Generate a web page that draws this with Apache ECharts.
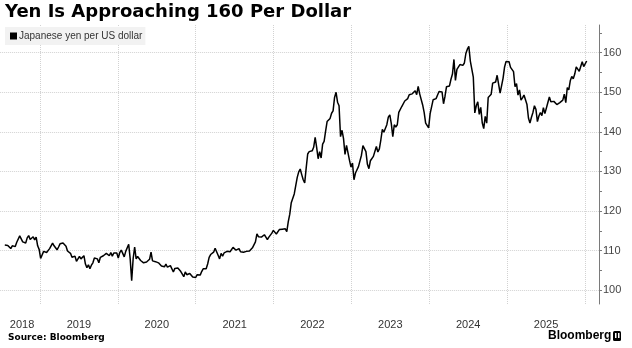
<!DOCTYPE html>
<html><head><meta charset="utf-8">
<script src="https://cdn.jsdelivr.net/npm/echarts@6/dist/echarts.min.js"></script>
<style>html,body{margin:0;padding:0;background:#fff}#c{width:632px;height:348px}</style>
</head><body><div id="c"></div>
<script>
// Weekly (Friday) USD/JPY readings, first Friday of each block given below
const firstFriday = {
  2018: '2018-07-20', 2019: '2019-01-04', 2020: '2020-01-03', 2021: '2021-01-01',
  2022: '2022-01-07', 2023: '2023-01-06', 2024: '2024-01-05', 2025: '2025-01-03', 2026: '2026-01-02'
};
const y2018 = [111.4,111.0,111.3,110.9,110.5,111.2,111.0,111.0,112.1,112.6,113.7,114.2,112.2,112.5,111.9,113.2,113.8,112.8,112.9,113.5,112.7,113.4,111.2,110.3];
const y2019 = [108.0,108.5,109.8,109.5,109.5,109.7,110.5,110.7,111.9,111.2,111.5,110.2,110.9,111.7,112.0,111.9,111.6,111.1,109.9,110.1,109.3,108.3,108.2,108.6,107.3,107.9,108.5,107.9,107.7,108.7,106.6,105.7,106.4,105.4,106.3,106.9,108.1,107.6,107.9,106.9,108.3,108.4,108.7,108.2,109.3,108.8,108.7,109.5,108.6,109.4,109.4,109.4];
const y2020 = [108.1,109.5,110.1,109.3,108.4,109.8,109.8,111.6,107.9,102.4,108.0,110.9,107.9,108.5,108.5,107.5,107.5,106.9,106.6,107.1,107.6,107.8,109.6,107.4,106.9,107.2,107.5,106.9,107.0,106.1,105.8,105.9,106.6,105.8,105.4,106.2,106.1,104.6,105.5,105.3,105.6,105.4,104.7,104.6,103.4,104.6,103.9,104.1,104.2,104.0,103.3,103.5];
const y2021 = [103.2,103.9,103.9,103.8,104.7,105.4,104.9,105.4,106.6,108.3,109.0,108.9,109.6,110.6,109.7,108.8,107.9,109.3,108.6,109.4,108.9,109.8,109.5,109.7,110.2,110.8,111.0,110.1,110.1,110.5,109.7,110.2,109.6,109.8,109.8,109.7,109.9,109.9,110.7,111.1,112.2,114.2,113.5,114.0,113.4,113.9,114.0,113.4,112.8,113.4,113.7,114.4,115.1];
const y2022 = [115.6,114.2,113.7,115.3,115.2,115.4,115.0,115.5,114.8,117.3,119.2,122.1,122.5,124.3,126.4,128.5,129.9,130.6,129.2,127.9,127.1,130.9,134.4,135.0,135.2,135.2,136.1,138.6,136.1,133.2,135.0,133.4,136.9,137.6,140.2,142.6,142.9,143.4,144.7,145.3,148.7,150.0,147.5,146.6,138.8,140.4,138.3,134.3,136.6,136.7,132.8,131.1];
const y2023 = [132.1,127.9,129.6,129.9,131.2,131.4,134.1,136.5,136.0,135.0,131.8,130.7,132.7,132.2,133.8,134.2,136.3,134.9,135.7,138.0,140.6,139.9,139.4,141.8,143.7,144.3,142.1,138.8,141.8,141.2,141.8,144.9,145.4,146.4,146.2,147.8,147.9,148.4,149.4,149.3,149.6,149.9,150.4,149.4,151.5,149.6,149.4,146.8,144.9,142.2,142.4,141.0];
const y2024 = [144.6,145.0,148.1,148.2,148.4,149.3,150.2,150.5,150.1,147.1,149.0,151.4,151.3,151.6,153.3,154.6,158.3,153.0,155.8,155.6,157.0,157.3,156.8,157.4,159.8,160.9,161.6,157.9,157.5,153.8,144.8,146.6,147.6,144.4,146.2,142.3,140.8,143.9,142.2,148.7,149.2,149.5,152.3,152.0,152.6,154.3,154.8,149.8,150.0,153.6,156.4,157.8];
const y2025 = [157.3,157.7,156.3,156.0,155.2,151.4,152.2,149.3,150.6,148.0,148.6,149.3,149.8,146.9,143.5,142.2,143.7,144.9,146.6,145.7,142.6,144.0,144.9,144.1,146.1,144.6,144.5,147.4,148.8,147.6,147.4,147.7,147.2,146.9,147.0,147.4,147.7,148.0,149.5,147.4,151.2,150.6,152.9,154.0,153.4,154.6,156.4,156.2,155.3,155.8,157.7,156.5];
const y2026 = [156.9,157.9];

const yearBlocks = [[2018,y2018],[2019,y2019],[2020,y2020],[2021,y2021],[2022,y2022],[2023,y2023],[2024,y2024],[2025,y2025],[2026,y2026]];
const yearLabels = ['2018','2019','2020','2021','2022','2023','2024','2025'];
const yearLabelPos = [2018.77,2019.5,2020.5,2021.5,2022.5,2023.5,2024.5,2025.5];
const yTickLabels = [100,110,120,130,140,150,160];
const yMinorTicks = [105,115,125,135,145,155,165];
const seriesName = 'Japanese yen per US dollar';

function yearFrac(ms){
  const d = new Date(ms); const y = d.getUTCFullYear();
  const a = Date.UTC(y,0,1), b = Date.UTC(y+1,0,1);
  return y + (ms - a)/(b - a);
}
const points = [];
yearBlocks.forEach(([yr, vals]) => {
  const p = firstFriday[yr].split('-').map(Number);
  const start = Date.UTC(p[0], p[1]-1, p[2]);
  vals.forEach((v,i) => points.push([yearFrac(start + i*7*86400000), v]));
});

const chart = echarts.init(document.getElementById('c'), null, {renderer:'canvas'});
const axisGray = '#7a7a7a';
chart.setOption({
  animation:false,
  backgroundColor:'#fff',
  title:[
    {text:'Yen Is Approaching 160 Per Dollar', left:5, top:3, padding:0,
     textStyle:{fontFamily:'DejaVu Sans', fontWeight:'bold', fontSize:18, color:'#000'}},
    {text:'Source: Bloomberg', left:8, top:333, padding:0,
     textStyle:{fontFamily:'DejaVu Sans', fontWeight:'bold', fontSize:9, color:'#000'}},
    {text:'Bloomberg', left:548, top:330, padding:0,
     textStyle:{fontFamily:'Liberation Sans', fontWeight:'bold', fontSize:12, color:'#000'}}
  ],
  graphic:[
    {type:'rect', left:613, top:331, shape:{width:8, height:10, r:1.5}, style:{fill:'#000'}},
    {type:'rect', left:615, top:333, shape:{width:1.5, height:5}, style:{fill:'#fff'}},
    {type:'rect', left:618, top:333, shape:{width:1.5, height:5}, style:{fill:'#fff'}}
  ],
  legend:{left:5, top:27, padding:[4,3,4,5], backgroundColor:'#f2f2f2', icon:'rect',
    itemWidth:7, itemHeight:7, data:[seriesName],
    textStyle:{fontSize:10, color:'#333', fontFamily:'Liberation Sans', padding:[0,0,0,-3]}},
  grid:{left:-37.86, right:33, top:25, bottom:44, containLabel:false, outerBoundsMode:'none'},
  xAxis:[{type:'value', min:2018, max:2026.18, interval:1,
    axisLine:{show:false}, axisTick:{show:false},
    splitLine:{show:true, lineStyle:{type:'dotted', color:'#d2d2d2', width:1}},
    axisLabel:{customValues:yearLabelPos, margin:15, fontSize:11, color:'#333', fontFamily:'Liberation Sans',
      formatter:(v)=>yearLabels[yearLabelPos.indexOf(v)] || String(Math.floor(v))}}],
  yAxis:[
    {type:'value', position:'right', min:96.5, max:167,
     axisLine:{show:true, lineStyle:{color:axisGray, width:1}},
     axisTick:{show:true, customValues:yTickLabels, length:3, lineStyle:{color:axisGray}},
     axisLabel:{customValues:yTickLabels, margin:4, fontSize:11, color:'#444', fontFamily:'Liberation Sans'},
     splitLine:{show:true, lineStyle:{type:'dotted', color:'#d2d2d2', width:1}}},
    {type:'value', position:'right', min:96.5, max:167,
     axisLine:{show:false}, axisLabel:{show:false}, splitLine:{show:false},
     axisTick:{show:true, customValues:yMinorTicks, length:3, lineStyle:{color:axisGray}}}
  ],
  series:[{name:seriesName, type:'line', data:points, showSymbol:false, symbol:'none',
    xAxisIndex:0, yAxisIndex:0,
    lineStyle:{color:'#000', width:1.5}, itemStyle:{color:'#000'}}]
});
</script></body></html>
